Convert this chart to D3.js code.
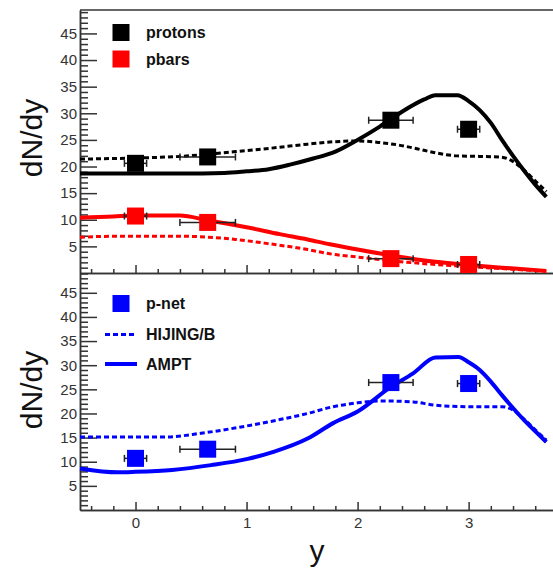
<!DOCTYPE html>
<html>
<head>
<meta http-equiv='Content-Type' content='text/html; charset=UTF-8'/>
<script src="https://cdn.jsdelivr.net/npm/d3@7"></script>
<style>
    body { margin: 0; background: white; }
    svg { font-family: "Liberation Sans", Arial, sans-serif; }
    .axis path, .axis line { stroke: #333; stroke-width: 1.5; }
    .axis text { fill: #333; font-size: 15px; }
    .legend text { font-size: 16px; font-weight: bold; fill: #111; }
</style>
</head>
<body>
<svg id="main" width="553" height="569"></svg>
<script>
    // measured points (rapidity, dN/dy, x error)
    var ptsY = [0, 0.65, 2.3, 3.0]
    var ptsXerr = [0.1, 0.25, 0.2, 0.1]
    var protons = [20.6, 21.8, 28.7, 27.0]
    var pbars = [10.7, 9.5, 2.7, 1.6]
    var pnet = [10.7, 12.6, 26.4, 26.2]

    // model curves
    var amptProtonsX = [-0.5, -0.2, 0, 0.4, 0.8, 1.0, 1.2, 1.4, 1.6, 1.8, 2.0, 2.2, 2.4, 2.6, 2.7, 2.9, 3.0, 3.1, 3.2, 3.3, 3.4, 3.5, 3.6, 3.7]
    var amptProtons = [18.7, 18.7, 18.7, 18.7, 18.8, 19.1, 19.5, 20.4, 21.5, 22.8, 25.0, 27.5, 30.3, 32.6, 33.4, 33.4, 32.3, 30.6, 28.2, 25.0, 22.0, 19.2, 16.6, 14.3]
    var hijingProtonsX = [-0.5, 0, 0.4, 0.9, 1.2, 1.55, 1.75, 2.0, 2.2, 2.35, 2.5, 2.65, 2.9, 3.1, 3.28, 3.37, 3.5, 3.6, 3.7]
    var hijingProtons = [21.4, 21.6, 21.9, 22.8, 23.4, 24.2, 24.6, 24.8, 24.5, 24.1, 23.5, 22.8, 22.0, 21.9, 21.8, 21.3, 19.3, 17.3, 15.3]
    var amptPbarsX = [-0.5, -0.2, 0, 0.4, 0.65, 1.0, 1.3, 1.55, 1.75, 2.0, 2.3, 2.7, 3.0, 3.3, 3.7]
    var amptPbars = [10.4, 10.6, 10.8, 10.8, 9.9, 8.6, 7.3, 6.3, 5.4, 4.4, 3.3, 2.1, 1.5, 1.0, 0.4]
    var hijingPbarsX = [-0.5, -0.2, 0.4, 0.9, 1.2, 1.55, 1.75, 2.0, 2.3, 2.7, 3.0, 3.4, 3.7]
    var hijingPbars = [6.7, 6.9, 6.9, 6.3, 5.5, 4.4, 3.6, 3.0, 2.3, 1.6, 1.2, 0.7, 0.3]
    var amptNetX = [-0.5, -0.16, 0, 0.33, 0.68, 1.01, 1.25, 1.55, 1.78, 2.0, 2.3, 2.5, 2.7, 2.91, 3.0, 3.1, 3.2, 3.3, 3.5, 3.7]
    var amptNet = [8.6, 7.8, 7.9, 8.3, 9.3, 10.6, 12.1, 14.8, 18.0, 20.4, 25.5, 28.3, 31.6, 31.7, 30.6, 29.0, 26.6, 23.8, 18.6, 14.1]
    var hijingNetX = [-0.5, 0.26, 0.59, 0.95, 1.25, 1.55, 1.78, 2.0, 2.2, 2.5, 2.7, 3.0, 3.3, 3.4, 3.5, 3.6, 3.7]
    var hijingNet = [15.1, 15.1, 15.9, 17.2, 18.5, 20.0, 21.4, 22.2, 22.6, 22.4, 21.7, 21.4, 21.4, 20.7, 18.8, 16.6, 14.5]

    var xMajor = [0, 1, 2, 3]
    var yMajor = [5, 10, 15, 20, 25, 30, 35, 40, 45]

    var svg = d3.select('#main')
    var left = 80, right = 553

    var x = d3.scaleLinear().domain([-0.5, 3.76]).range([left, right])
    var yTop = d3.scaleLinear().domain([0, 49.4]).range([273, 10])
    var yBot = d3.scaleLinear().domain([0, 49.1]).range([510, 273])

    var xMinor = d3.range(-0.4, 3.75, 0.2).filter(function(v){ return Math.abs(v - Math.round(v)) > 0.01 })
    var yMinor = d3.range(1, 50).filter(function(v){ return v % 5 != 0 })

    // top frame line
    svg.append('line').attr('x1', left).attr('x2', right).attr('y1', 10).attr('y2', 10)
        .style('stroke', '#333').style('stroke-width', 1.5)

    function drawAxes(y, bottomY, withLabels) {
        svg.append('g').attr('class', 'axis')
            .attr('transform', 'translate(' + left + ',0)')
            .call(d3.axisLeft(y).tickValues(yMinor).tickSize(-8).tickSizeOuter(0).tickFormat(''))
        svg.append('g').attr('class', 'axis')
            .attr('transform', 'translate(' + left + ',0)')
            .call(d3.axisLeft(y).tickValues(yMajor).tickSize(-17).tickSizeOuter(0).tickPadding(3))
        svg.append('g').attr('class', 'axis')
            .attr('transform', 'translate(0,' + bottomY + ')')
            .call(d3.axisBottom(x).tickValues(xMinor).tickSize(-4).tickSizeOuter(0).tickFormat(''))
        var g = svg.append('g').attr('class', 'axis')
            .attr('transform', 'translate(0,' + bottomY + ')')
            .call(d3.axisBottom(x).tickValues(xMajor).tickSize(-8).tickSizeOuter(0).tickPadding(7).tickFormat(d3.format('d')))
        if (!withLabels) g.selectAll('text').remove()
    }

    drawAxes(yTop, 273, false)
    drawAxes(yBot, 510, true)

    function curve(xs, ys, y, color, dashed) {
        var pts = xs.map(function(v, i){ return [v, ys[i]] })
        var line = d3.line().x(function(d){ return x(d[0]) }).y(function(d){ return y(d[1]) })
            .curve(d3.curveMonotoneX)
        svg.append('path').datum(pts).attr('d', line)
            .style('fill', 'none').style('stroke', color)
            .style('stroke-width', dashed ? 3 : 4)
            .style('stroke-dasharray', dashed ? '5,3' : null)
    }

    function points(vals, y, color) {
        var data = ptsY.map(function(v, i){ return {x: v, y: vals[i], e: ptsXerr[i]} })
        var g = svg.append('g')
        g.selectAll('line.err').data(data).enter().append('line')
            .attr('x1', function(d){ return x(d.x - d.e) }).attr('x2', function(d){ return x(d.x + d.e) })
            .attr('y1', function(d){ return y(d.y) }).attr('y2', function(d){ return y(d.y) })
            .style('stroke', '#222').style('stroke-width', 1.5)
        ;[-1, 1].forEach(function(s){
            g.selectAll(null).data(data).enter().append('line')
                .attr('x1', function(d){ return x(d.x + s * d.e) }).attr('x2', function(d){ return x(d.x + s * d.e) })
                .attr('y1', function(d){ return y(d.y) - 3.5 }).attr('y2', function(d){ return y(d.y) + 3.5 })
                .style('stroke', '#222').style('stroke-width', 1.5)
        })
        g.selectAll('rect').data(data).enter().append('rect')
            .attr('x', function(d){ return x(d.x) - 8.5 }).attr('y', function(d){ return y(d.y) - 8.5 })
            .attr('width', 17).attr('height', 17)
            .style('fill', color)
    }

    // top panel
    curve(hijingProtonsX, hijingProtons, yTop, 'black', true)
    curve(amptProtonsX, amptProtons, yTop, 'black', false)
    curve(hijingPbarsX, hijingPbars, yTop, 'red', true)
    curve(amptPbarsX, amptPbars, yTop, 'red', false)
    points(protons, yTop, 'black')
    points(pbars, yTop, 'red')

    // bottom panel
    curve(hijingNetX, hijingNet, yBot, 'blue', true)
    curve(amptNetX, amptNet, yBot, 'blue', false)
    points(pnet, yBot, 'blue')

    // legends
    var leg = svg.append('g').attr('class', 'legend')
    leg.append('rect').attr('x', 112.5).attr('y', 24).attr('width', 17).attr('height', 17).style('fill', 'black')
    leg.append('text').attr('x', 146).attr('y', 38).text('protons')
    leg.append('rect').attr('x', 112.5).attr('y', 50.5).attr('width', 17).attr('height', 17).style('fill', 'red')
    leg.append('text').attr('x', 146).attr('y', 65).text('pbars')

    leg.append('rect').attr('x', 112.5).attr('y', 295).attr('width', 17).attr('height', 17).style('fill', 'blue')
    leg.append('text').attr('x', 146).attr('y', 309).text('p-net')
    leg.append('line').attr('x1', 105).attr('x2', 135).attr('y1', 334.5).attr('y2', 334.5)
        .style('stroke', 'blue').style('stroke-width', 3).style('stroke-dasharray', '5,3')
    leg.append('text').attr('x', 146).attr('y', 340).text('HIJING/B')
    leg.append('line').attr('x1', 105).attr('x2', 137).attr('y1', 364).attr('y2', 364)
        .style('stroke', 'blue').style('stroke-width', 4)
    leg.append('text').attr('x', 146).attr('y', 370).text('AMPT')

    // axis titles
    svg.append('text').attr('transform', 'translate(42,138) rotate(-90)')
        .attr('text-anchor', 'middle').style('font-size', '30px').style('fill', '#111').text('dN/dy')
    svg.append('text').attr('transform', 'translate(42,390) rotate(-90)')
        .attr('text-anchor', 'middle').style('font-size', '30px').style('fill', '#111').text('dN/dy')
    svg.append('text').attr('x', 317).attr('y', 561)
        .attr('text-anchor', 'middle').style('font-size', '30px').style('fill', '#111').text('y')
</script>
</body>
</html>
